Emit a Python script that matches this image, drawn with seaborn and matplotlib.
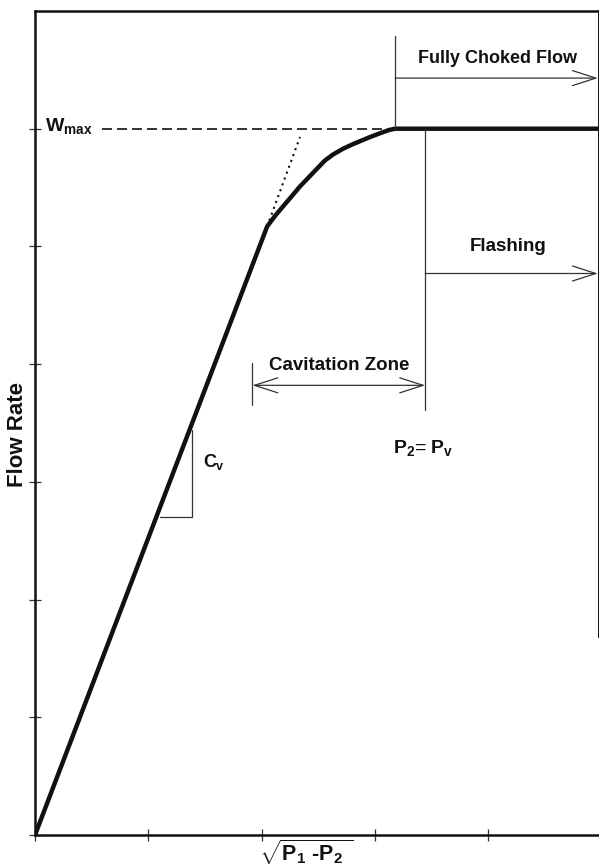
import matplotlib
matplotlib.use('Agg')
import matplotlib.pyplot as plt
import seaborn as sns

# flow curve (x = sqrt(P1-P2), y = flow rate)
flow_x = [0, 2.05, 2.12, 2.19, 2.27, 2.34, 2.42, 2.49, 2.56, 2.63, 2.72, 2.81, 2.96, 3.07, 3.13, 3.18, 4.98]
flow_y = [0, 5.17, 5.26, 5.34, 5.43, 5.51, 5.59, 5.66, 5.73, 5.78, 5.83, 5.87, 5.93, 5.97, 5.99, 6.0, 6.0]

# linear extension (dotted) and Wmax
ext_x = [2.05, 2.34]
ext_y = [5.17, 5.93]
w_max = 6.0
wmax_x = [0.59, 3.18]

# zone limits
choked_x = 3.18
flash_x = 3.445
cav_x = 1.92

sns.set_theme(style='white')
plt.rcParams['font.family'] = ['Liberation Sans', 'DejaVu Sans']
plt.rcParams['mathtext.fontset'] = 'custom'
plt.rcParams['mathtext.rm'] = 'Liberation Sans:bold'
plt.rcParams['mathtext.it'] = 'Liberation Sans:bold'
plt.rcParams['mathtext.bf'] = 'Liberation Sans:bold'
plt.rcParams['mathtext.sf'] = 'Liberation Sans:bold'

fig = plt.figure(figsize=(5.99, 8.66), dpi=100)
ax = fig.add_axes([35 / 599, 31 / 866, 564 / 599, 824 / 866])

ink = '#111111'
thin = '#333333'

sns.lineplot(x=flow_x, y=flow_y, ax=ax, color=ink, linewidth=3.2, sort=False,
             estimator=None, solid_capstyle='round', solid_joinstyle='round')
ax.plot(ext_x, ext_y, color=ink, linestyle=(0, (1, 2)), linewidth=1.5)
ax.plot(wmax_x, [w_max, w_max], color=ink, linestyle=(0, (6, 3)), linewidth=1.2)

# Cv slope triangle
ax.plot([1.387, 1.387, 1.10], [3.44, 2.70, 2.70], color=thin, linewidth=0.9)

arrow_r = dict(arrowstyle='->,head_length=1.4,head_width=0.45', color=thin,
               lw=0.9, shrinkA=0, shrinkB=0)
arrow_lr = dict(arrow_r, arrowstyle='<->,head_length=1.4,head_width=0.45')

# fully choked flow
ax.plot([choked_x, choked_x], [w_max, 6.79], color=thin, linewidth=0.9)
ax.annotate('', xy=(4.97, 6.43), xytext=(choked_x, 6.43), arrowprops=arrow_r,
            annotation_clip=False)
ax.text(4.08, 6.60, 'Fully Choked Flow', ha='center', va='center', fontsize=13,
        fontweight='bold', color=ink)

# flashing
ax.plot([flash_x, flash_x], [w_max, 3.61], color=thin, linewidth=0.9)
ax.annotate('', xy=(4.97, 4.77), xytext=(flash_x, 4.77), arrowprops=arrow_r,
            annotation_clip=False)
ax.text(4.18, 5.0, 'Flashing', ha='center', va='center', fontsize=13.5,
        fontweight='bold', color=ink)

# cavitation zone
ax.plot([cav_x, cav_x], [4.01, 3.65], color=thin, linewidth=0.9)
ax.annotate('', xy=(flash_x, 3.82), xytext=(cav_x, 3.82), arrowprops=arrow_lr)
ax.text(2.69, 3.99, 'Cavitation Zone', ha='center', va='center', fontsize=13.5,
        fontweight='bold', color=ink)

ax.text(3.43, 3.29, r'$P_2$= $P_v$', ha='center', va='center', fontsize=14, color=ink)
ax.text(1.48, 3.17, r'$C_v$', ha='left', va='center', fontsize=13, color=ink)
ax.text(0.09, w_max + 0.02, r'$W_{max}$', ha='left', va='center', fontsize=14, color=ink)

ax.set_xlim(0, 4.98)
ax.set_ylim(0, 7)
ax.set_xticks([0, 1, 2, 3, 4])
ax.set_yticks([0, 1, 2, 3, 4, 5, 6])
ax.set_xticklabels([])
ax.set_yticklabels([])
ax.tick_params(direction='inout', length=8, width=0.9, color=thin,
               bottom=True, left=True)

for side in ['left', 'bottom', 'top']:
    ax.spines[side].set_linewidth(1.8)
    ax.spines[side].set_color(ink)
ax.spines['right'].set_linewidth(1.4)
ax.spines['right'].set_color(ink)
ax.spines['right'].set_bounds(1.68, 7)

ax.text(2.39, -0.02, r'$\sqrt{P_1\ \text{-}P_2\ }$', ha='center', va='top',
        fontsize=15.5, color=ink, clip_on=False)
fig.text(18 / 599, 1 - 434 / 866, 'Flow Rate', rotation=90, ha='center', va='center',
         fontsize=16, fontweight='bold', color=ink)

fig.savefig('out.png', dpi=100, facecolor='white')
